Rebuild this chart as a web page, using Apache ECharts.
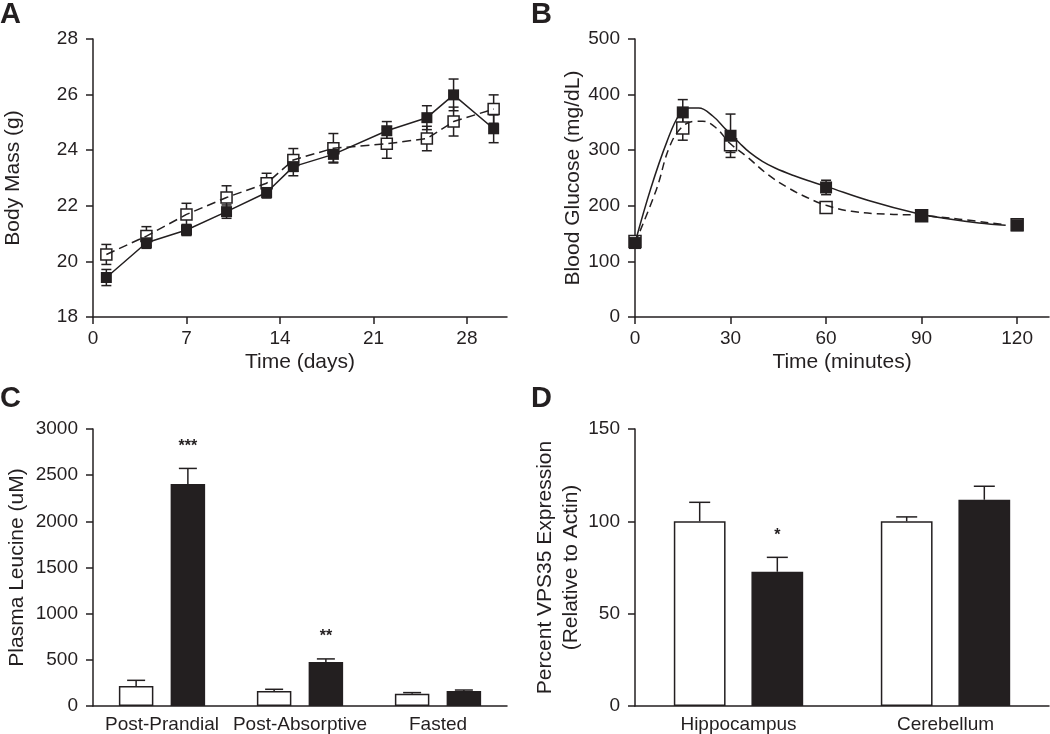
<!DOCTYPE html>
<html>
<head>
<meta charset="utf-8">
<script src="https://cdn.jsdelivr.net/npm/echarts@6/dist/echarts.min.js"></script>
<style>
html,body{margin:0;padding:0;background:#fff;}
#chart{width:1050px;height:734px;}
</style>
</head>
<body>
<div id="chart"></div>
<script>
// ---------- Panel A: body mass ----------
const aDays = [1, 4, 7, 10, 13, 15, 18, 22, 25, 27, 30];
const aOpenMean = [20.25, 20.91, 21.69, 22.30, 22.81, 23.65, 24.07, 24.23, 24.42, 25.03, 25.48];
const aOpenErr = [0.36, 0.34, 0.40, 0.42, 0.36, 0.41, 0.53, 0.52, 0.44, 0.52, 0.51];
const aFilledMean = [19.42, 20.67, 21.13, 21.79, 22.48, 23.41, 23.85, 24.70, 25.17, 25.99, 24.77];
const aFilledErr = [0.29, 0.20, 0.20, 0.24, 0.20, 0.33, 0.28, 0.33, 0.43, 0.57, 0.50];
const aXTicks = [0, 7, 14, 21, 28];

// ---------- Panel B: blood glucose ----------
const bTimes = [0, 15, 30, 60, 90, 120];
const bOpenMean = [136, 340, 310, 197, 182, 166];
const bOpenErr = [8, 22, 14, 6, 5, 5];
const bFilledMean = [133, 368, 326, 233, 182, 165];
const bFilledErr = [8, 23, 39, 13, 6, 6];
const bXTicks = [0, 30, 60, 90, 120];
// fitted curves
const bFitSolidT = [0, 5, 10, 14, 17, 20, 24.5, 28.6, 32.8, 36, 40, 44, 50, 55, 60, 73.6, 88, 97.6, 108, 116.4];
const bFitSolidV = [133, 232, 315, 365, 376, 376, 361, 337, 313, 296, 280, 268, 254, 244, 235, 209, 187, 177, 169, 165];
const bFitDashT = [0, 6.7, 10.9, 15, 19.2, 21.3, 25.5, 29.7, 35, 42, 48.5, 54, 60, 68, 78.8, 89.2, 101.8, 115.9];
const bFitDashV = [133, 229, 307, 343, 352, 352, 340, 313, 289, 255, 231, 215, 201, 190, 185, 183, 176, 166];

// ---------- Panel C: plasma leucine ----------
const cCategories = ['Post-Prandial', 'Post-Absorptive', 'Fasted'];
const cOpen = [217, 163, 134];
const cOpenErr = [61, 18, 11];
const cFilled = [2403, 477, 163];
const cFilledErr = [170, 33, 10];
const cStars = ['***', '**', ''];

// ---------- Panel D: VPS35 expression ----------
const dCategories = ['Hippocampus', 'Cerebellum'];
const dOpen = [100, 100];
const dOpenErr = [10.3, 2.4];
const dFilled = [72.7, 111.7];
const dFilledErr = [7.8, 7.3];
const dStars = ['*', ''];

const INK = '#231f20';
const FONT = '"Liberation Sans", Arial, Helvetica, sans-serif';

function zip(xs, ys, es) { return xs.map((x, i) => es ? [x, ys[i], es[i]] : [x, ys[i]]); }

function errXY(capW) {
  return function (params, api) {
    const x = api.value(0), m = api.value(1), e = api.value(2);
    const hi = api.coord([x, m + e]), lo = api.coord([x, m - e]);
    const st = { stroke: INK, lineWidth: 1.5 };
    return { type: 'group', children: [
      { type: 'line', shape: { x1: hi[0], y1: hi[1], x2: lo[0], y2: lo[1] }, style: st },
      { type: 'line', shape: { x1: hi[0] - capW / 2, y1: hi[1], x2: hi[0] + capW / 2, y2: hi[1] }, style: st },
      { type: 'line', shape: { x1: lo[0] - capW / 2, y1: lo[1], x2: lo[0] + capW / 2, y2: lo[1] }, style: st }
    ]};
  };
}

function errBar(side, capW, stars, starSize) {
  return function (params, api) {
    const c = api.value(0), m = api.value(1), e = api.value(2);
    const band = api.size([1, 0])[0];
    const dx = side * band * 0.1875;
    const top = api.coord([c, m + e]), base = api.coord([c, m]);
    const x = top[0] + dx;
    const st = { stroke: INK, lineWidth: 1.5 };
    const children = [
      { type: 'line', shape: { x1: x, y1: base[1], x2: x, y2: top[1] }, style: st },
      { type: 'line', shape: { x1: x - capW / 2, y1: top[1], x2: x + capW / 2, y2: top[1] }, style: st }
    ];
    const s = stars ? stars[params.dataIndex] : '';
    if (s) {
      children.push({ type: 'text', style: { text: s, x: x, y: top[1] - 22, align: 'center', verticalAlign: 'middle',
        font: 'bold ' + starSize + 'px ' + FONT, fill: INK } });
    }
    return { type: 'group', children: children };
  };
}

const plainNum = v => String(v);
const axisLineStyle = { show: true, lineStyle: { color: INK, width: 1.5 } };
const tickStyle = { show: true, inside: false, length: 7, lineStyle: { color: INK, width: 1.5 } };
const labelBase = { color: INK, fontSize: 19, fontFamily: FONT };
const yLabel = Object.assign({}, labelBase, { margin: 15, formatter: plainNum });
const nameStyle = { color: INK, fontSize: 21, fontFamily: FONT };

const grids = [
  { left: 93, top: 39, width: 414, height: 278 },
  { left: 635, top: 39, width: 414, height: 278 },
  { left: 93, top: 429, width: 414, height: 277 },
  { left: 635, top: 429, width: 414, height: 277 }
];

const openSym = { color: '#ffffff', borderColor: INK, borderWidth: 1.5, opacity: 1 };
const fillSym = { color: INK, opacity: 1 };

const option = {
  backgroundColor: '#ffffff',
  animation: false,
  textStyle: { fontFamily: FONT },
  grid: grids,
  graphic: [
    { type: 'text', left: 0, top: 0, style: { text: 'A', font: 'bold 29px ' + FONT, fill: INK } },
    { type: 'text', left: 531, top: 0, style: { text: 'B', font: 'bold 29px ' + FONT, fill: INK } },
    { type: 'text', left: 0, top: 384, style: { text: 'C', font: 'bold 29px ' + FONT, fill: INK } },
    { type: 'text', left: 531, top: 384, style: { text: 'D', font: 'bold 29px ' + FONT, fill: INK } }
  ],
  xAxis: [
    { gridIndex: 0, type: 'value', min: 0, max: 31, name: 'Time (days)', nameLocation: 'middle', nameGap: 35,
      nameTextStyle: nameStyle, axisLine: axisLineStyle,
      axisTick: Object.assign({}, tickStyle, { customValues: aXTicks }),
      axisLabel: Object.assign({}, labelBase, { margin: 12, customValues: aXTicks }), splitLine: { show: false } },
    { gridIndex: 1, type: 'value', min: 0, max: 130, name: 'Time (minutes)', nameLocation: 'middle', nameGap: 35,
      nameTextStyle: nameStyle, axisLine: axisLineStyle,
      axisTick: Object.assign({}, tickStyle, { customValues: bXTicks }),
      axisLabel: Object.assign({}, labelBase, { margin: 12, customValues: bXTicks }), splitLine: { show: false } },
    { gridIndex: 2, type: 'category', data: cCategories, axisLine: axisLineStyle, axisTick: { show: false },
      axisLabel: Object.assign({}, labelBase, { margin: 9, interval: 0 }), splitLine: { show: false } },
    { gridIndex: 3, type: 'category', data: dCategories, axisLine: axisLineStyle, axisTick: { show: false },
      axisLabel: Object.assign({}, labelBase, { margin: 9, interval: 0 }), splitLine: { show: false } }
  ],
  yAxis: [
    { gridIndex: 0, type: 'value', min: 18, max: 28, interval: 2, name: 'Body Mass (g)', nameLocation: 'middle', nameGap: 69,
      nameTextStyle: nameStyle, axisLine: axisLineStyle, axisTick: tickStyle, axisLabel: yLabel, splitLine: { show: false } },
    { gridIndex: 1, type: 'value', min: 0, max: 500, interval: 100, name: 'Blood Glucose (mg/dL)', nameLocation: 'middle', nameGap: 51,
      nameTextStyle: nameStyle, axisLine: axisLineStyle, axisTick: tickStyle, axisLabel: yLabel, splitLine: { show: false } },
    { gridIndex: 2, type: 'value', min: 0, max: 3000, interval: 500, name: 'Plasma Leucine (uM)', nameLocation: 'middle', nameGap: 65,
      nameTextStyle: nameStyle, axisLine: axisLineStyle, axisTick: tickStyle, axisLabel: yLabel, splitLine: { show: false } },
    { gridIndex: 3, type: 'value', min: 0, max: 150, interval: 50, name: 'Percent VPS35 Expression\n(Relative to Actin)', nameLocation: 'middle', nameGap: 49,
      nameTextStyle: Object.assign({}, nameStyle, { lineHeight: 26 }), axisLine: axisLineStyle, axisTick: tickStyle,
      axisLabel: yLabel, splitLine: { show: false } }
  ],
  series: [
    // ----- A -----
    { type: 'custom', xAxisIndex: 0, yAxisIndex: 0, z: 1, renderItem: errXY(10), data: zip(aDays, aOpenMean, aOpenErr) },
    { type: 'custom', xAxisIndex: 0, yAxisIndex: 0, z: 1, renderItem: errXY(10), data: zip(aDays, aFilledMean, aFilledErr) },
    { type: 'scatter', xAxisIndex: 0, yAxisIndex: 0, z: 2, symbol: 'rect', symbolSize: 11,
      itemStyle: openSym, data: zip(aDays, aOpenMean) },
    { type: 'line', xAxisIndex: 0, yAxisIndex: 0, z: 3, showSymbol: false, lineStyle: { color: INK, width: 1.5, type: [9, 5] },
      data: zip(aDays, aOpenMean) },
    { type: 'line', xAxisIndex: 0, yAxisIndex: 0, z: 3, showSymbol: false, lineStyle: { color: INK, width: 1.5 },
      data: zip(aDays, aFilledMean) },
    { type: 'scatter', xAxisIndex: 0, yAxisIndex: 0, z: 4, symbol: 'rect', symbolSize: 11,
      itemStyle: fillSym, data: zip(aDays, aFilledMean) },
    // ----- B -----
    { type: 'custom', xAxisIndex: 1, yAxisIndex: 1, z: 1, renderItem: errXY(10), data: zip(bTimes, bOpenMean, bOpenErr) },
    { type: 'custom', xAxisIndex: 1, yAxisIndex: 1, z: 1, renderItem: errXY(10), data: zip(bTimes, bFilledMean, bFilledErr) },
    { type: 'scatter', xAxisIndex: 1, yAxisIndex: 1, z: 2, symbol: 'rect', symbolSize: 12,
      itemStyle: openSym, data: zip(bTimes, bOpenMean) },
    { type: 'line', xAxisIndex: 1, yAxisIndex: 1, z: 3, showSymbol: false, smooth: 0.4, lineStyle: { color: INK, width: 1.5, type: [8, 5] },
      data: zip(bFitDashT, bFitDashV) },
    { type: 'line', xAxisIndex: 1, yAxisIndex: 1, z: 3, showSymbol: false, smooth: 0.4, lineStyle: { color: INK, width: 1.5 },
      data: zip(bFitSolidT, bFitSolidV) },
    { type: 'scatter', xAxisIndex: 1, yAxisIndex: 1, z: 4, symbol: 'rect', symbolSize: 12,
      itemStyle: fillSym, data: zip(bTimes, bFilledMean) },
    // ----- C -----
    { type: 'bar', xAxisIndex: 2, yAxisIndex: 2, barWidth: '25%', barGap: '50%', z: 2,
      itemStyle: { color: '#ffffff', borderColor: INK, borderWidth: 1.5 }, data: cOpen },
    { type: 'bar', xAxisIndex: 2, yAxisIndex: 2, barWidth: '25%', barGap: '50%', z: 2,
      itemStyle: { color: INK, borderColor: INK, borderWidth: 1.5 }, data: cFilled },
    { type: 'custom', xAxisIndex: 2, yAxisIndex: 2, z: 1, renderItem: errBar(-1, 18, null, 16),
      data: cOpen.map((v, i) => [i, v, cOpenErr[i]]) },
    { type: 'custom', xAxisIndex: 2, yAxisIndex: 2, z: 1, renderItem: errBar(1, 18, cStars, 16),
      data: cFilled.map((v, i) => [i, v, cFilledErr[i]]) },
    // ----- D -----
    { type: 'bar', xAxisIndex: 3, yAxisIndex: 3, barWidth: '25%', barGap: '50%', z: 2,
      itemStyle: { color: '#ffffff', borderColor: INK, borderWidth: 1.5 }, data: dOpen },
    { type: 'bar', xAxisIndex: 3, yAxisIndex: 3, barWidth: '25%', barGap: '50%', z: 2,
      itemStyle: { color: INK, borderColor: INK, borderWidth: 1.5 }, data: dFilled },
    { type: 'custom', xAxisIndex: 3, yAxisIndex: 3, z: 1, renderItem: errBar(-1, 21, null, 16),
      data: dOpen.map((v, i) => [i, v, dOpenErr[i]]) },
    { type: 'custom', xAxisIndex: 3, yAxisIndex: 3, z: 1, renderItem: errBar(1, 21, dStars, 16),
      data: dFilled.map((v, i) => [i, v, dFilledErr[i]]) }
  ]
};

const chart = echarts.init(document.getElementById('chart'), null, { renderer: 'canvas' });
chart.setOption(option);
</script>
</body>
</html>
